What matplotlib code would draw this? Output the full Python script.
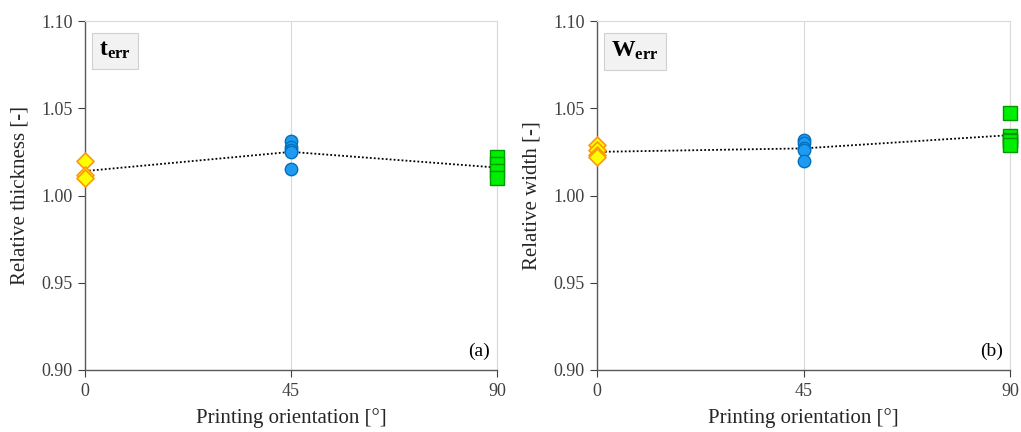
import matplotlib.pyplot as plt

plt.rcParams['font.family'] = ['Liberation Serif', 'DejaVu Serif']
plt.rcParams['mathtext.fontset'] = 'custom'
plt.rcParams['mathtext.rm'] = 'Liberation Serif'
plt.rcParams['mathtext.bf'] = 'Liberation Serif:bold'

orient = [0, 45, 90]

# panel (a) relative thickness
t_0 = [1.020, 1.012, 1.010]
t_45 = [1.031, 1.028, 1.026, 1.025, 1.015]
t_90 = [1.022, 1.018, 1.014, 1.010]

# panel (b) relative width
w_0 = [1.029, 1.026, 1.023, 1.022]
w_45 = [1.032, 1.030, 1.027, 1.026, 1.020]
w_90 = [1.047, 1.034, 1.032, 1.031, 1.029]

fig = plt.figure(figsize=(10.21, 4.32), dpi=100)
W, H = 1021, 432
axa = fig.add_axes([85 / W, 1 - 370 / H, 412 / W, 349 / H])
axb = fig.add_axes([597 / W, 1 - 370 / H, 413 / W, 349 / H])


def mean(v):
    return sum(v) / len(v)


def panel(ax, g0, g45, g90, ylabel, name, tag):
    ax.plot(orient, [mean(g0), mean(g45), mean(g90)], ls=(0, (1, 1.2)),
            color='black', lw=1.3, zorder=2)
    ax.scatter([0] * len(g0), g0, marker='D', s=75, c='#ffff00',
               edgecolors='#ff9900', linewidths=1.2, zorder=3, clip_on=False)
    ax.scatter([45] * len(g45), g45, marker='o', s=80, c='#1e9bf0',
               edgecolors='#0070c0', linewidths=1.0, zorder=3, clip_on=False)
    ax.scatter([90] * len(g90), g90, marker='s', s=95, c='#00ee00',
               edgecolors='#009900', linewidths=1.0, zorder=3, clip_on=False)
    ax.set_xlim(0, 90)
    ax.set_ylim(0.90, 1.10)
    ax.set_xticks(orient)
    ax.set_yticks([0.90, 0.95, 1.00, 1.05, 1.10])
    ax.set_yticklabels(['0.90', '0.95', '1.00', '1.05', '1.10'])
    ax.grid(axis='x', color='#d9d9d9', lw=0.8)
    for s in ['top', 'right']:
        ax.spines[s].set_color('#d9d9d9')
        ax.spines[s].set_linewidth(0.8)
    for s in ['left', 'bottom']:
        ax.spines[s].set_color('#595959')
        ax.spines[s].set_linewidth(1.0)
        ax.spines[s].set_zorder(2.5)
    ax.tick_params(labelsize=13, colors='#404040', direction='out', length=5,
                   pad=4)
    ax.set_ylabel(ylabel, fontsize=15, color='#262626', labelpad=8)
    ax.set_xlabel('Printing orientation [°]', fontsize=15, color='#262626',
                  labelpad=6)
    ax.text(0.035, 0.945, name, transform=ax.transAxes, fontsize=17,
            va='top', ha='left', color='black',
            bbox=dict(boxstyle='square,pad=0.3', fc='#f2f2f2', ec='#d0d0d0',
                      lw=0.8))
    ax.text(0.983, 0.03, tag, transform=ax.transAxes, fontsize=14,
            ha='right', va='bottom', color='black')


panel(axa, t_0, t_45, t_90, 'Relative thickness [-]',
      r'$\mathbf{t_{err}}$', '(a)')
panel(axb, w_0, w_45, w_90, 'Relative width [-]',
      r'$\mathbf{W_{err}}$', '(b)')

fig.savefig('out.png', dpi=100)
